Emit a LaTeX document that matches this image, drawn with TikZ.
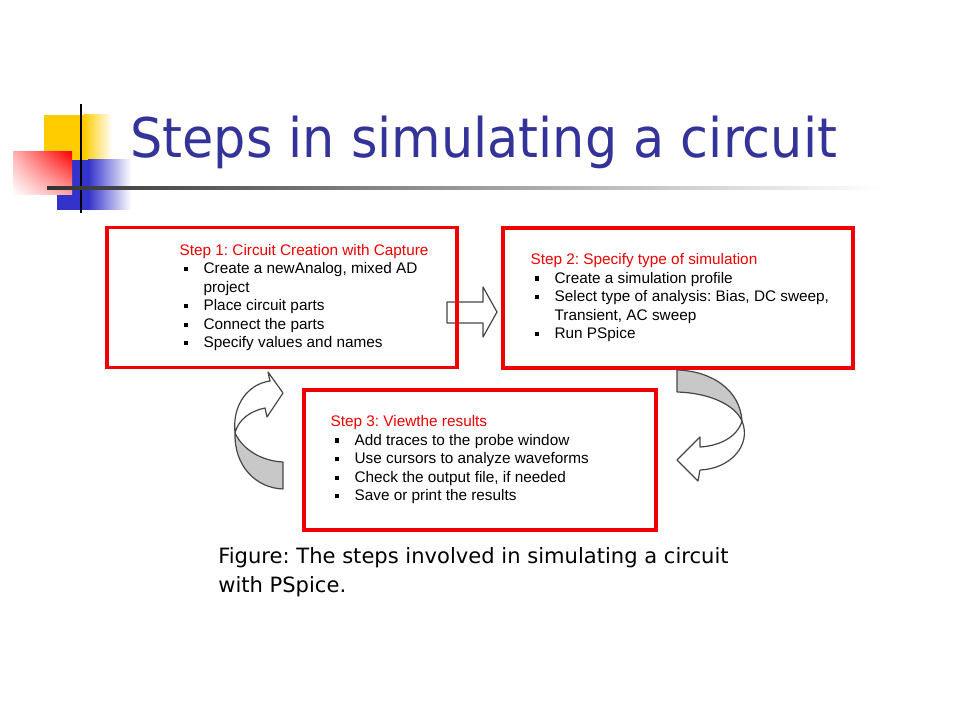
\documentclass[tikz,border=0pt]{standalone}
\usepackage{fontspec}
\setmainfont{Liberation Sans}
\newfontfamily\slidefont[FakeStretch=0.93]{DejaVu Sans}
\newfontfamily\capfont{DejaVu Sans}
\usetikzlibrary{positioning}
\usetikzlibrary{shadings}
\definecolor{stepred}{RGB}{240,0,0}
\definecolor{titleblue}{RGB}{51,51,153}
\definecolor{arrowgray}{RGB}{200,200,200}
\definecolor{edgegray}{RGB}{70,70,70}
\definecolor{decoyellow}{RGB}{255,204,0}
\definecolor{decoblue}{RGB}{51,51,204}
\newcommand\stepitem{\makebox[18pt][l]{\hspace{3pt}\rule[1.8pt]{3.2pt}{3.2pt}}}
\newcommand\stephang{\hspace*{18pt}}
\frenchspacing

\begin{document}
\begin{tikzpicture}[x=0.75pt, y=-0.75pt,
  stepbox/.style = {draw=stepred, line width=2.5pt, minimum width=262.5pt, minimum height=105pt, inner sep=0},
  steptext/.style = {inner sep=0, align=left, font=\fontsize{11.5}{13.9}\selectfont},
  curl/.style = {draw=edgegray, line width=0.9pt, line join=round}]
\fill[white] (0,0) rectangle (960,720);
\useasboundingbox (0,0) rectangle (960,720);
% title decoration
\fill[decoyellow] (44,115) rectangle (84,160);
\shade[left color=decoyellow, right color=white] (84,115) rectangle (112,160);
\fill[decoblue] (57,160) rectangle (88,210);
\shade[left color=decoblue, right color=white] (88,160) rectangle (131,210);
\shade[upper right=red, upper left=red!30, lower right=red!35, lower left=white] (13,152) rectangle (72,195);
\draw[line width=1.6pt] (81,104) -- (81,213);
\shade[left color=black!80, right color=white] (47,186.5) rectangle (880,189.5);
\node[anchor=base west, inner sep=0, text=titleblue, font=\slidefont\fontsize{41}{48}\selectfont] (title) at (130,158) {Steps in simulating a circuit};

% arrows between the steps
\draw[curl, fill=white] (447,302) -- (483,302) -- (483,287) -- (497,312) -- (483,337) -- (483,323) -- (447,323) -- cycle;
\draw[curl, fill=white] (235,433) .. controls (232,405) and (248,384) .. (270,381) -- (268,372) -- (283,393) -- (267,417) -- (265,408) .. controls (250,411) and (238,420) .. (235,433) -- cycle;
\draw[curl, fill=arrowgray] (235,433) .. controls (234,465) and (255,488) .. (283,489) -- (283,462) .. controls (262,461) and (243,450) .. (235,433) -- cycle;
\draw[curl, fill=arrowgray] (677,370) .. controls (712,371) and (740,390) .. (742,421) .. controls (735,405) and (710,393) .. (677,392) -- cycle;
\draw[curl, fill=white] (742,421) .. controls (752,445) and (730,469) .. (700,470) -- (698,481) -- (677,460) -- (700,437) -- (700,447) .. controls (718,446) and (737,438) .. (742,421) -- cycle;

% the three steps
\node[stepbox] (capture) at (282,297.5) {};
\node[stepbox] (simulate) at (678,298) {};
\node[stepbox, minimum width=264pt] (results) at (480,460) {};

\node[steptext, below right=11.8pt and 55.5pt of capture.north west] (capturetext) {%
  \textcolor{stepred}{\rule{0pt}{10pt}Step 1: Circuit Creation with Capture}\\
  \stepitem Create a newAnalog, mixed AD\\
  \stephang project\\
  \stepitem Place circuit parts\\
  \stepitem Connect the parts\\
  \stepitem Specify values and names};
\node[steptext, below right=18.5pt and 21.75pt of simulate.north west] (simulatetext) {%
  \textcolor{stepred}{\rule{0pt}{10pt}Step 2: Specify type of simulation}\\
  \stepitem Create a simulation profile\\
  \stepitem Select type of analysis: Bias, DC sweep,\\
  \stephang Transient, AC sweep\\
  \stepitem Run PSpice};
\node[steptext, below right=18.5pt and 21pt of results.north west] (resultstext) {%
  \textcolor{stepred}{\rule{0pt}{10pt}Step 3: Viewthe results}\\
  \stepitem Add traces to the probe window\\
  \stepitem Use cursors to analyze waveforms\\
  \stepitem Check the output file, if needed\\
  \stepitem Save or print the results};

% caption
\node[anchor=north west, inner sep=0, align=left, font=\capfont\fontsize{15.8}{21.5}\selectfont] (caption) at (218,545) {%
  \rule{0pt}{14pt}Figure: The steps involved in simulating a circuit\\
  with PSpice.};
\end{tikzpicture}
\end{document}
